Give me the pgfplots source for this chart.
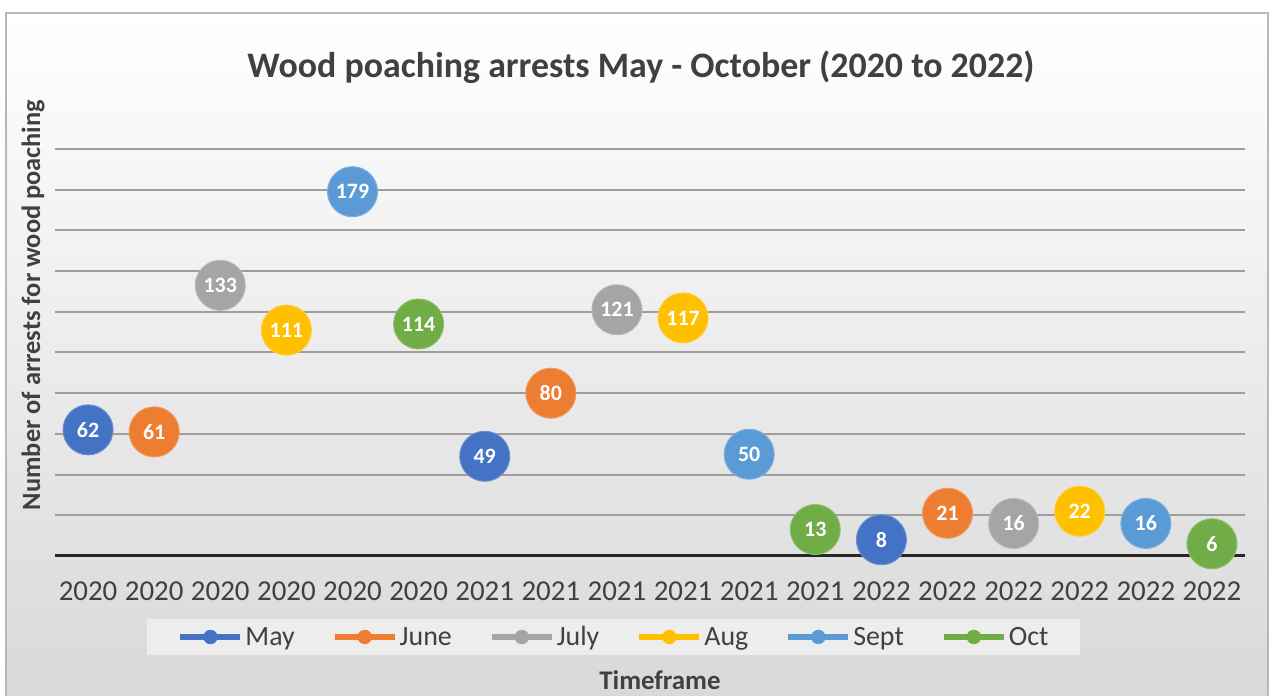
\documentclass[border=0pt]{standalone}
\usepackage{pgfplots}
\pgfplotsset{compat=1.18}
\usepackage{fontspec}
\setmainfont{Carlito}
\definecolor{cMay}{HTML}{4472C4}
\definecolor{cJun}{HTML}{ED7D31}
\definecolor{cJul}{HTML}{A5A5A5}
\definecolor{cAug}{HTML}{FFC000}
\definecolor{cSep}{HTML}{5B9BD5}
\definecolor{cOct}{HTML}{70AD47}
\definecolor{txt}{HTML}{404040}
\pgfplotsset{
  leg/.style={legend image code/.code={
    \draw[#1, line width=6bp] (0bp,0bp) -- (60bp,0bp);
    \fill[#1] (30bp,0bp) circle (7bp);}},
  bub/.style={only marks, mark=*, mark size=25bp,
    mark options={fill=#1, draw=#1!80!white, line width=1bp},
    nodes near coords, point meta=explicit symbolic, leg=#1},
}
\begin{document}
\begin{tikzpicture}[x=1bp,y=1bp]
\path[use as bounding box] (0,0) rectangle (1272,696);
\shade[top color=white, bottom color=black!15] (6,0) rectangle (1268,683);
\draw[black!28, line width=2bp] (6,-5) rectangle (1268,683);
\node[font=\bfseries\fontsize{36}{42}\selectfont, text=txt] at (641,629) {Wood poaching arrests May - October (2020 to 2022)};
\node[font=\bfseries\fontsize{26.5}{30}\selectfont, text=txt, rotate=90] at (33,391) {Number of arrests for wood poaching};
\node[font=\bfseries\fontsize{27}{30}\selectfont, text=txt] at (660,16) {Timeframe};
\begin{axis}[
  at={(55bp,140bp)}, anchor=south west, scale only axis,
  width=1190bp, height=407bp,
  xmin=-0.5, xmax=17.5, ymin=0, ymax=200,
  ytick={20,40,...,200}, yticklabels={},
  ymajorgrids, grid style={line width=2bp, color=black!38},
  extra y ticks={0}, extra y tick labels={},
  extra y tick style={ymajorgrids=true, major grid style={line width=3bp, color=black!85}},
  axis line style={draw=none},
  xtick={0,...,17},
  xticklabels={2020,2020,2020,2020,2020,2020,2021,2021,2021,2021,2021,2021,2022,2022,2022,2022,2022,2022},
  major tick length=0, tick style={draw=none},
  xticklabel style={font=\fontsize{29}{32}\selectfont, text=txt, yshift=-22bp},
  clip=false,
  every node near coord/.style={anchor=center, text=white, font=\bfseries\fontsize{22}{24}\selectfont},
  legend columns=6,
  legend style={at={(0.4697,-0.199)}, anchor=center, fill=black!7, draw=none,
    font=\fontsize{28}{30}\selectfont, text=txt, inner xsep=30bp, inner ysep=6bp,
    /tikz/every even column/.append style={column sep=35bp}},
]
\addplot[bub=cMay] coordinates {(0,62)[62] (6,49)[49] (12,8)[8]};
\addlegendentry{May}
\addplot[bub=cJun] coordinates {(1,61)[61] (7,80)[80] (13,21)[21]};
\addlegendentry{June}
\addplot[bub=cJul] coordinates {(2,133)[133] (8,121)[121] (14,16)[16]};
\addlegendentry{July}
\addplot[bub=cAug] coordinates {(3,111)[111] (9,117)[117] (15,22)[22]};
\addlegendentry{Aug}
\addplot[bub=cSep] coordinates {(4,179)[179] (10,50)[50] (16,16)[16]};
\addlegendentry{Sept}
\addplot[bub=cOct] coordinates {(5,114)[114] (11,13)[13] (17,6)[6]};
\addlegendentry{Oct}
\end{axis}
\end{tikzpicture}
\end{document}
